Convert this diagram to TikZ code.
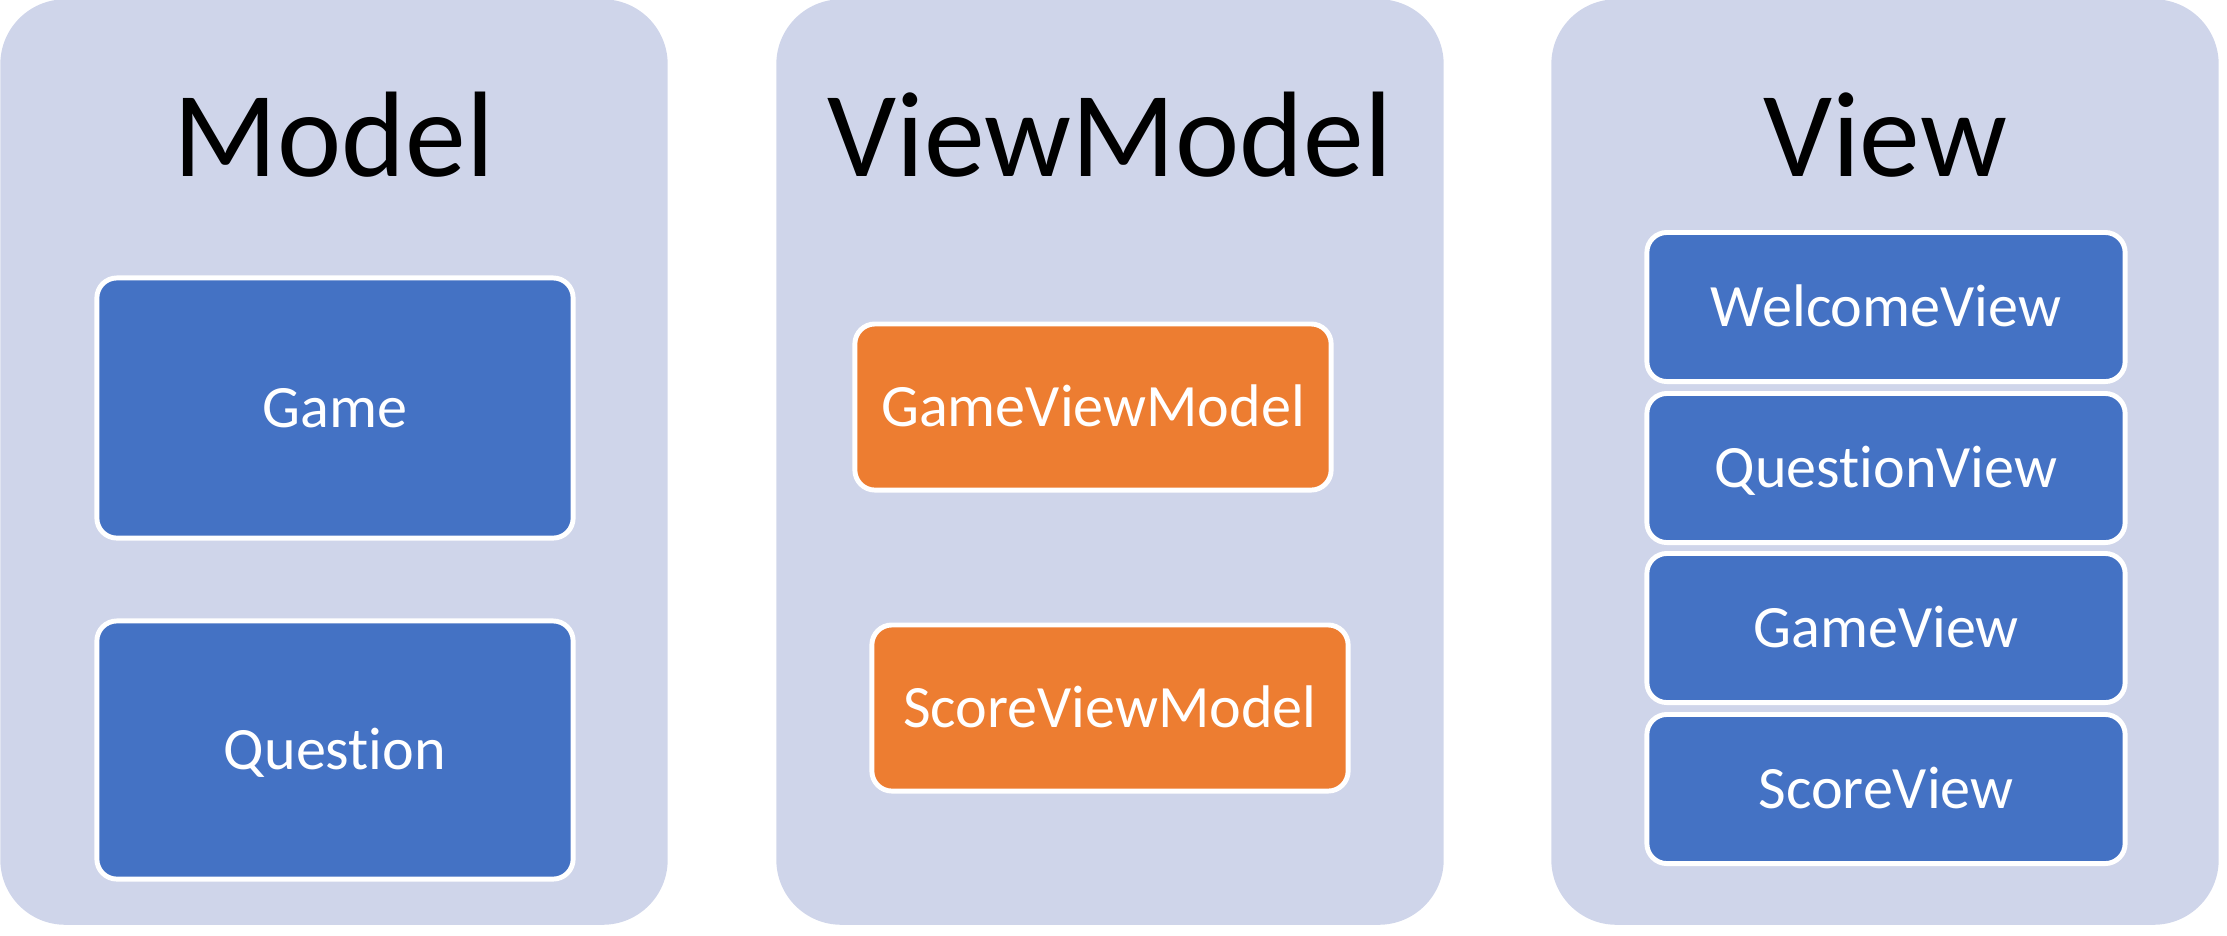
\documentclass[tikz,border=0pt]{standalone}
\usepackage{fontspec}
\setmainfont{Carlito}[Ligatures=NoCommon]
\usepackage{tikz}
\definecolor{panelgray}{HTML}{CFD5EA}
\definecolor{boxblue}{HTML}{4472C4}
\definecolor{boxorange}{HTML}{ED7D31}

\begin{document}
\begin{tikzpicture}[x=0.01cm,y=-0.01cm]
  \tikzset{panel/.style = {shape=rectangle,rounded corners=0.65cm,fill=panelgray,minimum width=6.67cm,minimum height=9.25cm,inner sep=0pt}}
  \tikzset{title/.style = {anchor=base,font=\fontsize{34.6}{40}\selectfont,inner sep=0pt}}
  \tikzset{block/.style = {shape=rectangle,rounded corners=0.2cm,draw=white,line width=1.4pt,text=white,font=\fontsize{17.1}{20}\selectfont,minimum width=4.76cm,inner sep=0pt,text height=12.8pt,text depth=1.8pt}}
  \tikzset{blueblock/.style = {block,fill=boxblue}}
  \tikzset{orangeblock/.style = {block,fill=boxorange}}

  \useasboundingbox (0,0) rectangle (2227,935);

	\node[panel] (model) at (334,462) {};
	\node[panel] (viewmodel) at (1110,462) {};
	\node[panel] (view) at (1885,462) {};

	\node[title] (modeltitle) at (334,176) {Model};
	\node[title] (viewmodeltitle) at (1110,176) {ViewModel};
	\node[title] (viewtitle) at (1885,176) {View};

	\node[blueblock,minimum height=2.6cm] (game) at (335,408) {Game};
	\node[blueblock,minimum height=2.58cm] (question) at (335,750) {Question};

	\node[orangeblock,minimum height=1.66cm] (gamevm) at (1093,407) {GameViewModel};
	\node[orangeblock,minimum height=1.66cm] (scorevm) at (1110,708) {ScoreViewModel};

       \foreach \name/\y/\label in {welcome/307/WelcomeView, questionv/468/QuestionView, gamev/628/GameView, scorev/789/ScoreView}
    \node[blueblock,minimum width=4.78cm,minimum height=1.49cm] (\name) at (1886,\y) {\label};
\end{tikzpicture}
\end{document}
